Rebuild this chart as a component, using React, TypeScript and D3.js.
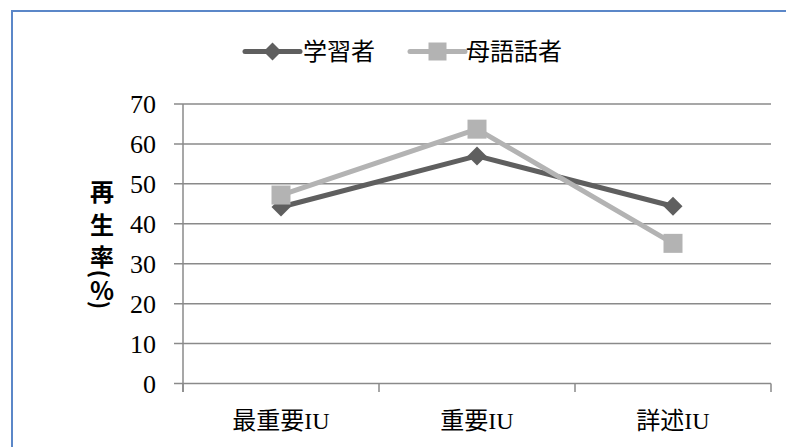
import React from "react";
import * as d3 from "d3";

const categories = ["最重要IU", "重要IU", "詳述IU"];
const learners = [44.2, 57.0, 44.4];
const natives = [47.2, 63.7, 35.1];
const seriesNames = ["学習者", "母語話者"];
const yTicks = [0, 10, 20, 30, 40, 50, 60, 70];
const yTitleChars = ["再", "生", "率", "(", "%", ")"];

const W = 786;
const H = 447;
const left = 183;
const right = 771;
const top = 104;
const bottom = 383.5;

const darkC = "#5f5f5f";
const lightC = "#b3b3b3";
const gridC = "#8a8a8a";

export default function App() {
  const x = d3.scaleBand<string>().domain(categories).range([left, right]);
  const y = d3.scaleLinear().domain([0, 70]).range([bottom, top]);
  const cx = (c: string) => (x(c) as number) + x.bandwidth() / 2;
  const line = d3
    .line<number>()
    .x((_, i) => cx(categories[i]))
    .y((d) => y(d));

  const diamond = (px: number, py: number, r: number) =>
    `M${px},${py - r}L${px + r},${py}L${px},${py + r}L${px - r},${py}Z`;

  const serifOnly = "Liberation Serif, Times New Roman, serif";
  const serif = "Liberation Serif, Noto Sans CJK JP, serif";
  const cjk = "Noto Sans CJK JP, sans-serif";

  const leg = [
    { x0: 245, x1: 300, color: darkC, marker: "d", tx: 303 },
    { x0: 410, x1: 465, color: lightC, marker: "s", tx: 466 },
  ];
  const legY = 51.5;

  const boundaries = [left, ...categories.map((c) => (x(c) as number) + x.bandwidth())];
  const titleY = [190, 223, 255, 274, 289, 305];

  return (
    <div style={{ position: "absolute", left: 0, top: 0 }}>
      <svg width={W} height={H} style={{ display: "block", background: "#fff" }}>
        <rect x={0} y={0} width={W} height={H} fill="#fff" />
        <rect x={12} y={11} width={W} height={H} fill="none" stroke="#5b87c8" strokeWidth={2} />

        {yTicks.map((t) => (
          <line key={t} x1={174} x2={right} y1={y(t)} y2={y(t)} stroke={gridC} strokeWidth={1.5} />
        ))}
        <line x1={left} x2={left} y1={top} y2={392} stroke={gridC} strokeWidth={1.5} />
        {boundaries.map((b, i) => (
          <line key={i} x1={b} x2={b} y1={bottom} y2={392} stroke={gridC} strokeWidth={1.5} />
        ))}

        {yTicks.map((t) => (
          <text key={t} x={156} y={y(t) + 9} textAnchor="end" style={{ fontFamily: serifOnly }} fontSize={26} fill="#000">
            {t}
          </text>
        ))}

        {yTitleChars.map((ch, i) => {
          const cy = titleY[i];
          const isParen = ch === "(" || ch === ")";
          return (
            <text
              key={i}
              x={102}
              y={cy}
              textAnchor="middle"
              dominantBaseline="central"
              style={{ fontFamily: cjk }}
              fontWeight={700}
              fontSize={isParen ? 22 : ch === "%" ? 25 : 24}
              fill="#000"
              transform={isParen ? `rotate(90 102 ${cy})` : undefined}
            >
              {ch}
            </text>
          );
        })}

        {categories.map((c) => (
          <text key={c} x={cx(c)} y={429} textAnchor="middle" style={{ fontFamily: serif }} fontSize={24} fill="#000">
            {c}
          </text>
        ))}

        <path d={line(learners) || ""} fill="none" stroke={darkC} strokeWidth={5} strokeLinejoin="round" />
        {learners.map((v, i) => (
          <path key={i} d={diamond(cx(categories[i]), y(v), 9.5)} fill={darkC} />
        ))}
        <path d={line(natives) || ""} fill="none" stroke={lightC} strokeWidth={5} strokeLinejoin="round" />
        {natives.map((v, i) => (
          <rect key={i} x={cx(categories[i]) - 9.5} y={y(v) - 9.5} width={19} height={19} fill={lightC} />
        ))}

        {leg.map((l, i) => {
          const mx = (l.x0 + l.x1) / 2;
          return (
            <g key={i}>
              <line x1={l.x0} x2={l.x1} y1={legY} y2={legY} stroke={l.color} strokeWidth={5} strokeLinecap="round" />
              {l.marker === "d" ? (
                <path d={diamond(mx, legY, 9)} fill={l.color} />
              ) : (
                <rect x={mx - 9} y={legY - 9} width={18} height={18} fill={l.color} />
              )}
              <text x={l.tx} y={60} style={{ fontFamily: cjk }} fontSize={24} fill="#000">
                {seriesNames[i]}
              </text>
            </g>
          );
        })}
      </svg>
    </div>
  );
}
